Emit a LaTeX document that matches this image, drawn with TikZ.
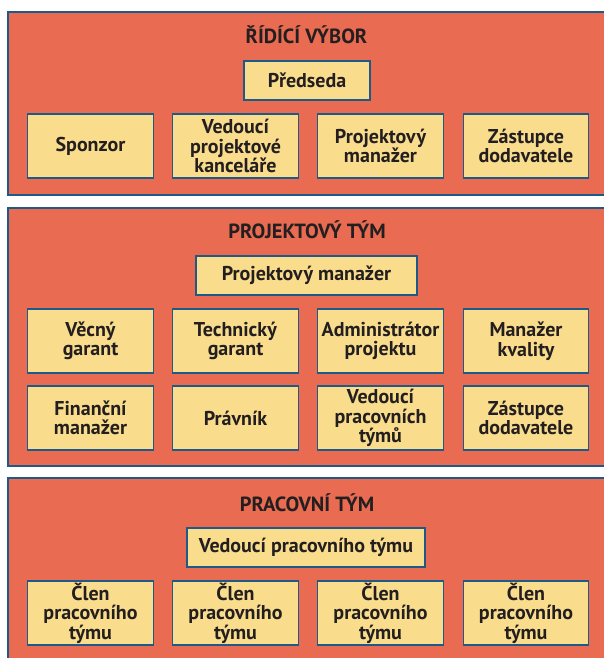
\documentclass[tikz,border=0pt]{standalone}
\usepackage{fontspec}
\setmainfont{PT Sans}
\definecolor{panel}{HTML}{E96B51}
\definecolor{cell}{HTML}{F9DC8C}
\definecolor{edge}{HTML}{1D5A87}
\definecolor{ink}{HTML}{231F20}
\begin{document}
\begin{tikzpicture}[x=1pt,y=-1pt,
  panelbox/.style={fill=panel,draw=edge,line width=2.2pt},
  cellbox/.style={rectangle,fill=cell,draw=edge,line width=1.3pt,
    minimum width=125.5pt,minimum height=64pt,inner sep=0pt,
    align=center,text=ink,font=\bfseries\fontsize{20}{19.5}\selectfont},
  widebox/.style={cellbox,minimum height=39pt},
  titletext/.style={text=ink,inner sep=0pt,font=\bfseries\fontsize{20.5}{19.5}\selectfont}]
\useasboundingbox (0,0) rectangle (604,658);
\begin{scope}
\clip (0,0) rectangle (604,658);
\fill[white] (0,0) rectangle (604,658);
% panels
\draw[panelbox] (8,12) rectangle (640,195);
\draw[panelbox] (8,208) rectangle (640,466);
\draw[panelbox] (8,478) rectangle (640,700);
\end{scope}
% panel 1
\node[titletext] (t1) at (306.5,35) {ŘÍDÍCÍ VÝBOR};
\node[widebox,minimum width=126pt] (predseda) at (307,80.5) {Předseda};
\node[cellbox] (sponzor) at (90.5,146) {Sponzor};
\node[cellbox] (vpk) at (235.5,146) {Vedoucí\\projektové\\kanceláře};
\node[cellbox] (pm1) at (380.5,146) {Projektový\\manažer};
\node[cellbox] (zd1) at (526,146) {Zástupce\\dodavatele};
% panel 2
\node[titletext] (t2) at (307,229.5) {PROJEKTOVÝ TÝM};
\node[widebox,minimum width=221pt] (pm2) at (306.5,275.5) {Projektový manažer};
\node[cellbox] (vg) at (90.5,341) {Věcný\\garant};
\node[cellbox] (tg) at (235.5,341) {Technický\\garant};
\node[cellbox] (ap) at (380.5,341) {Administrátor\\projektu};
\node[cellbox] (mk) at (526,341) {Manažer\\kvality};
\node[cellbox] (fm) at (90.5,418) {Finanční\\manažer};
\node[cellbox] (pr) at (235.5,418) {Právník};
\node[cellbox] (vpt) at (380.5,418) {Vedoucí\\pracovních\\týmů};
\node[cellbox] (zd2) at (526,418) {Zástupce\\dodavatele};
% panel 3
\node[titletext] (t3) at (307,503) {PRACOVNÍ TÝM};
\node[widebox,minimum width=238pt] (vpt3) at (306,547.5) {Vedoucí pracovního týmu};
\node[cellbox] (c1) at (90.5,613) {Člen\\pracovního\\týmu};
\node[cellbox] (c2) at (235.5,613) {Člen\\pracovního\\týmu};
\node[cellbox] (c3) at (380.5,613) {Člen\\pracovního\\týmu};
\node[cellbox] (c4) at (526,613) {Člen\\pracovního\\týmu};
\end{tikzpicture}
\end{document}
